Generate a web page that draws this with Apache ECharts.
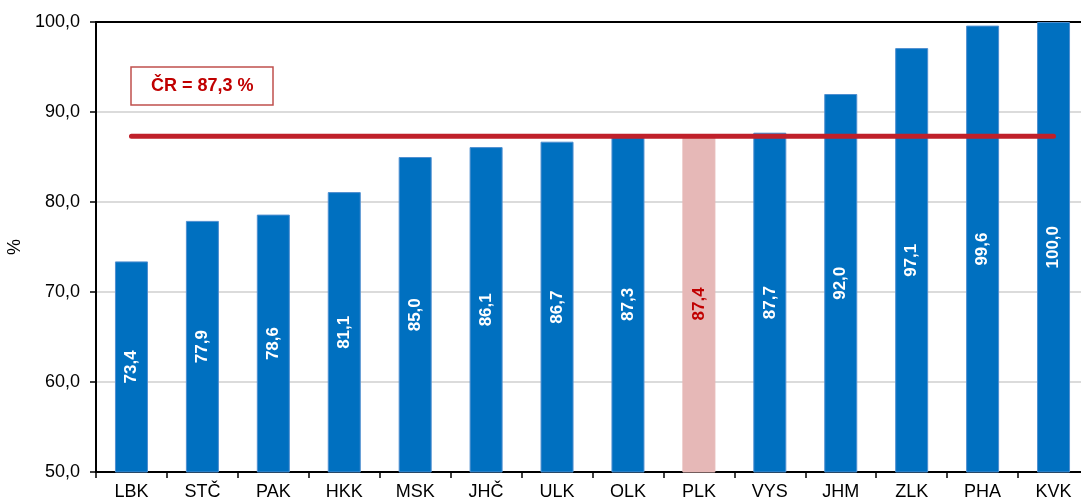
<!DOCTYPE html>
<html>
<head>
<meta charset="utf-8">
<script src="https://cdn.jsdelivr.net/npm/echarts@6/dist/echarts.min.js"></script>
<style>html,body{margin:0;padding:0;background:#fff;}#c{width:1081px;height:502px;}</style>
</head>
<body>
<div id="c"></div>
<script>
const categories = ['LBK','STČ','PAK','HKK','MSK','JHČ','ULK','OLK','PLK','VYS','JHM','ZLK','PHA','KVK'];
const values = [73.4, 77.9, 78.6, 81.1, 85.0, 86.1, 86.7, 87.3, 87.4, 87.7, 92.0, 97.1, 99.6, 100.0];
const crValue = 87.3;
const highlight = 'PLK';
const crLabel = 'ČR = 87,3 %';

const font = '"Liberation Sans", Arial, sans-serif';
const fmt = v => v.toFixed(1).replace('.', ',');

const barData = values.map((v, i) => categories[i] === highlight ? {
  value: v,
  itemStyle: { color: '#E6B8B7', borderColor: '#E6B8B7' },
  label: { color: '#C00000' }
} : v);

const chart = echarts.init(document.getElementById('c'), null, { renderer: 'canvas' });
chart.setOption({
  animation: false,
  backgroundColor: '#fff',
  textStyle: { fontFamily: font },
  title: {
    text: crLabel,
    left: 131, top: 67,
    padding: [10, 20],
    borderColor: '#C0504D', borderWidth: 1.5,
    textStyle: { color: '#C00000', fontWeight: 'bold', fontSize: 18, fontFamily: font }
  },
  grid: { left: 96, top: 22, bottom: 30, width: 993, outerBoundsMode: 'none', containLabel: false },
  xAxis: [{
    type: 'category', data: categories,
    axisLine: { lineStyle: { color: '#000', width: 2 } },
    axisTick: { show: true, length: 6, lineStyle: { color: '#000', width: 1.5 } },
    axisLabel: { color: '#000', fontSize: 18, margin: 11, fontFamily: font }
  }, {
    type: 'category', data: categories, position: 'top',
    axisLine: { show: true, lineStyle: { color: '#000', width: 2 } },
    axisTick: { show: false }, axisLabel: { show: false }
  }],
  yAxis: {
    type: 'value', min: 50, max: 100, interval: 10,
    name: '%', nameLocation: 'middle', nameGap: 72, nameRotate: 90,
    nameTextStyle: { color: '#000', fontSize: 18, fontFamily: font },
    axisLine: { show: true, lineStyle: { color: '#000', width: 2 } },
    axisTick: { show: true, length: 6, lineStyle: { color: '#000', width: 1.5 } },
    axisLabel: { color: '#000', fontSize: 18, margin: 16, formatter: fmt, fontFamily: font },
    splitLine: { lineStyle: { color: '#CFCFCF', width: 1.5 } }
  },
  series: [
    {
      type: 'bar', data: barData, barWidth: 33,
      itemStyle: { color: '#0070C0', borderColor: '#4F8FD0', borderWidth: 1 },
      label: {
        show: true, position: 'inside', rotate: 90,
        color: '#fff', fontWeight: 'bold', fontSize: 17, fontFamily: font,
        formatter: p => fmt(p.value)
      },
      z: 2
    },
    {
      type: 'line', data: categories.map(() => crValue),
      symbol: 'none', silent: true,
      lineStyle: { color: '#C0202A', width: 5, cap: 'round' },
      z: 5
    }
  ]
});
</script>
</body>
</html>
